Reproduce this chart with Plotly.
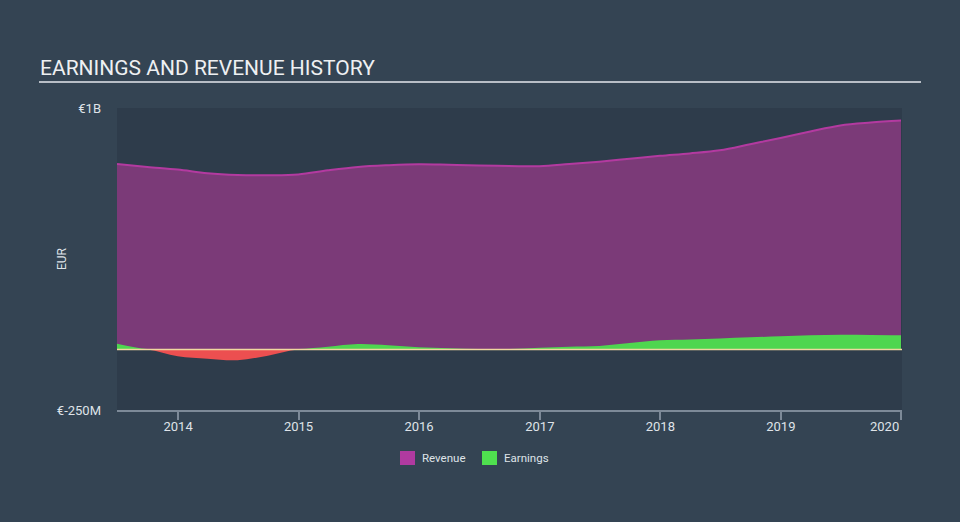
import plotly.graph_objects as go
import pandas as pd

dates = pd.date_range("2013-06-30", "2019-12-31", freq="QE").strftime("%Y-%m-%d").tolist()
revenue = [768, 756, 745, 730, 723, 722, 725, 742, 756, 763, 767, 765, 762, 760,
           759, 768, 778, 790, 802, 812, 825, 850, 876, 903, 928, 940, 948]
earnings = [24, 2, -28, -38, -44, -25, 2, 12, 23, 18, 10, 6, 2, 3,
            8, 12, 15, 27, 39, 42, 46, 51, 55, 59, 61, 60, 59]
tick_years = ["2014", "2015", "2016", "2017", "2018", "2019", "2020"]
y_ticks = [-250, 1000]
y_tick_text = ["€-250M", "€1B"]
legend_names = ["Revenue", "Earnings"]
legend_colors = ["#b03aa0", "#4fe04f"]

pos = [max(v, 0) for v in earnings]
neg = [min(v, 0) for v in earnings]

W, H = 960, 522
L, R, T, B = 117, 902, 108, 410
pw, ph = R - L, B - T


def px(x):
    return (x - L) / pw


def py(y):
    return (B - y) / ph


fig = go.Figure()
fig.add_trace(go.Scatter(x=dates, y=revenue, mode="lines", line=dict(color="#b33aa0", width=2, shape="spline"),
                         fill="tozeroy", fillcolor="#7b3a78", showlegend=False, hoverinfo="skip"))
fig.add_trace(go.Scatter(x=dates, y=pos, mode="lines", line=dict(color="#4fd64f", width=0, shape="spline"),
                         fill="tozeroy", fillcolor="#4fd64f", showlegend=False, hoverinfo="skip"))
fig.add_trace(go.Scatter(x=dates, y=neg, mode="lines", line=dict(color="#ec4f50", width=0, shape="spline"),
                         fill="tozeroy", fillcolor="#ec4f50", showlegend=False, hoverinfo="skip"))

fig.add_shape(type="line", xref="paper", yref="y", x0=0, x1=1, y0=0, y1=0,
              line=dict(color="#f0d8a0", width=1.5), layer="above")
fig.add_shape(type="line", xref="paper", yref="paper", x0=px(39), x1=px(921),
              y0=py(82), y1=py(82), line=dict(color="#b8bec6", width=2))
fig.add_annotation(text="EARNINGS AND REVENUE HISTORY", xref="paper", yref="paper",
                   x=px(38), y=py(68), xanchor="left", yanchor="middle",
                   showarrow=False, font=dict(family="Roboto", size=21, color="#eef0f2"))
fig.add_annotation(text="EUR", xref="paper", yref="paper", x=px(62), y=0.5,
                   textangle=-90, showarrow=False, xanchor="center", yanchor="middle",
                   font=dict(family="Roboto", size=12, color="#dfe3e8"))

# last tick label kept inside the plot edge, as in the reference
tick_text = tick_years[:-1] + [""]
fig.add_annotation(text=tick_years[-1], xref="x", yref="paper", x=tick_years[-1] + "-01-01",
                   y=py(426), xanchor="right", yanchor="middle", showarrow=False,
                   font=dict(family="Roboto", size=13, color="#dfe3e8"))

# manual legend
leg_x = [400, 482]
for name, col, lx in zip(legend_names, legend_colors, leg_x):
    fig.add_shape(type="rect", xref="paper", yref="paper", x0=px(lx), x1=px(lx + 15),
                  y0=py(465), y1=py(451), fillcolor=col, line=dict(width=0))
    fig.add_annotation(text=name, xref="paper", yref="paper", x=px(lx + 20), y=py(458),
                       xanchor="left", yanchor="middle", showarrow=False,
                       font=dict(family="Roboto", size=11.5, color="#dfe3e8"))

fig.update_layout(
    width=W, height=H,
    margin=dict(l=L, r=W - R, t=T, b=H - B),
    paper_bgcolor="#344453", plot_bgcolor="#2e3c4b",
    font=dict(family="Roboto", size=13, color="#dfe3e8"),
    showlegend=False,
    xaxis=dict(range=["2013-06-30", "2020-01-03"], tickvals=[y + "-01-01" for y in tick_years],
               ticktext=tick_text, showgrid=False, zeroline=False, showline=True,
               linecolor="#7d8a98", linewidth=1.5, ticks="outside", ticklen=8, tickcolor="#7d8a98",
               tickwidth=1.5, ticklabelstandoff=-4, tickfont=dict(size=13, color="#dfe3e8")),
    yaxis=dict(range=[-250, 1000], tickvals=y_ticks, ticktext=y_tick_text, showgrid=False,
               zeroline=False, showline=False, ticks="", ticklabelstandoff=15,
               tickfont=dict(size=13, color="#dfe3e8")),
)
fig.write_html("out.html", config={"displayModeBar": False},
               post_script="document.body.style.margin='0';document.body.style.background='#344453';")
